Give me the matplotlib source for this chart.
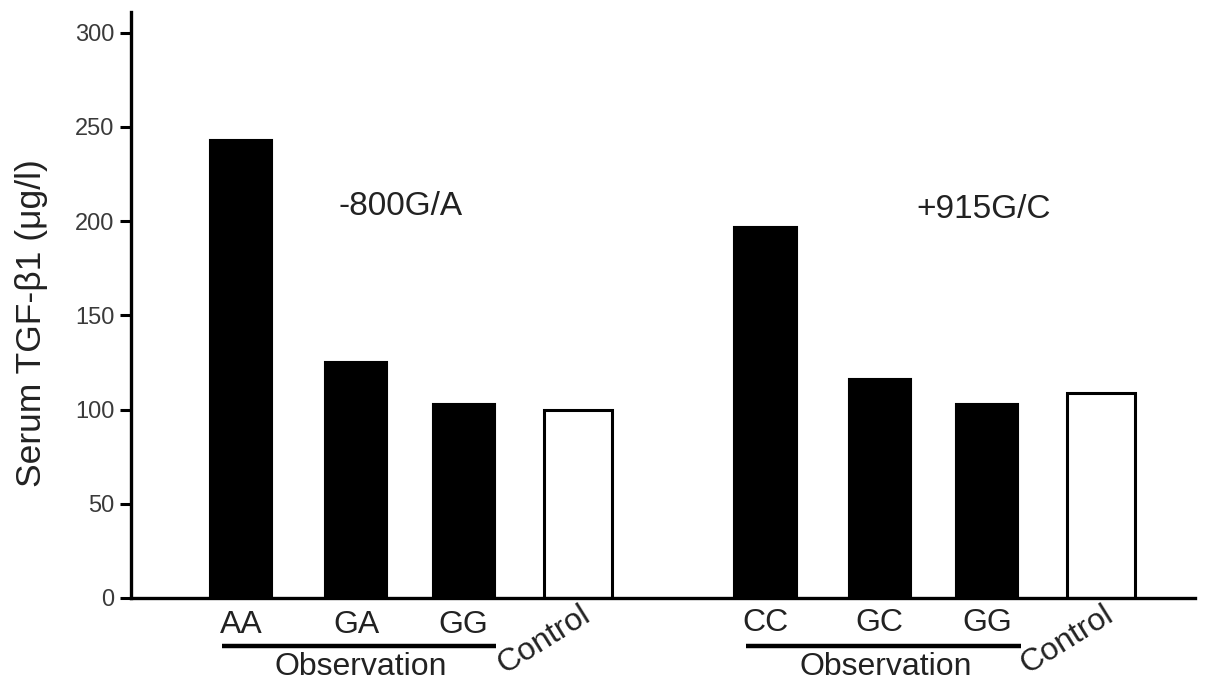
import matplotlib
matplotlib.use("Agg")
import matplotlib.pyplot as plt

# ---- data ----
genotypes_1 = ["AA", "GA", "GG"]
genotypes_2 = ["CC", "GC", "GG"]
values_1 = [243, 125, 103]
control_1 = 100
values_2 = [197, 116, 103]
control_2 = 109
group_titles = ["-800G/A", "+915G/C"]
yticks = [0, 50, 100, 150, 200, 250, 300]
ylabel = "Serum TGF-\u03b21 (\u03bcg/l)"

# ---- layout ----
plt.rcParams['font.family'] = ['Liberation Sans', 'DejaVu Sans']
fig = plt.figure(figsize=(12.05, 6.92), dpi=100)
ax = fig.add_axes([131/1205, 94/692, (1195-131)/1205, (598-12)/692])

pos1 = [0.0, 1.02, 1.97]
cpos1 = 2.98
pos2 = [4.64, 5.65, 6.60]
cpos2 = 7.61
w = 0.55
cw = 0.60

ax.bar(pos1, values_1, width=w, color="black", edgecolor="black", linewidth=1.5)
ax.bar([cpos1], [control_1], width=cw, color="white", edgecolor="black", linewidth=2.2)
ax.bar(pos2, values_2, width=w, color="black", edgecolor="black", linewidth=1.5)
ax.bar([cpos2], [control_2], width=cw, color="white", edgecolor="black", linewidth=2.2)

ax.set_xlim(-0.973, 8.44)
ax.set_ylim(0, 311)
ax.set_yticks(yticks)
ax.set_yticklabels([str(t) for t in yticks], fontsize=17, color="#3a3a3a")
ax.tick_params(axis='y', length=8, width=2.2, pad=4, color="black")
ax.set_xticks([])
for s in ["top", "right"]:
    ax.spines[s].set_visible(False)
for s in ["left", "bottom"]:
    ax.spines[s].set_linewidth(2.4)
ax.set_ylabel(ylabel, fontsize=25.5, color="#222222")
ax.yaxis.set_label_coords(-0.078, 0.47)

txtc = "#222222"
for p, g in zip(pos1, genotypes_1):
    ax.text(p, -14.5, g, ha="center", va="center", fontsize=23, color=txtc, clip_on=False)
for p, g in zip(pos2, genotypes_2):
    ax.text(p, -13.5, g, ha="center", va="center", fontsize=23, color=txtc, clip_on=False)

for p0, cp in [(pos1[0], cpos1), (pos2[0], cpos2)]:
    ax.plot([p0 - 0.17, p0 + 2.26], [-25.5, -25.5], color="black", lw=3.2,
            clip_on=False, solid_capstyle="butt")
    ax.text(p0 + 1.06, -36.5, "Observation", ha="center", va="center", fontsize=23,
            color=txtc, clip_on=False)
    ax.text(cp - 0.30, -22, "Control", ha="center", va="center", fontsize=23,
            rotation=32, color=txtc, clip_on=False)

ax.text(1.41, 208, group_titles[0], ha="center", va="center", fontsize=24, color=txtc)
ax.text(6.57, 206, group_titles[1], ha="center", va="center", fontsize=24, color=txtc)

fig.savefig("out.png", dpi=100)
